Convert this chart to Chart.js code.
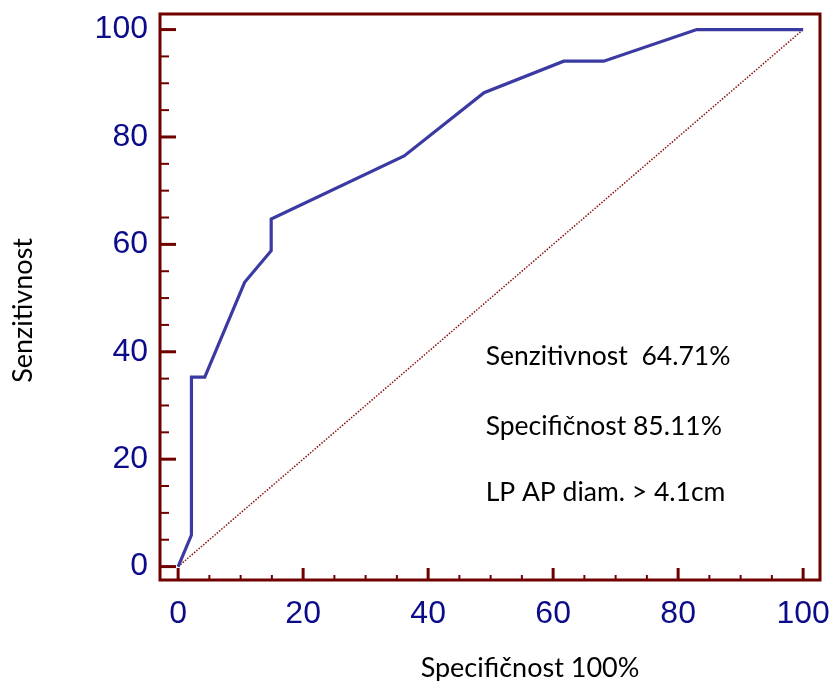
<!DOCTYPE html>
<html>
<head>
<meta charset="utf-8">
<script src="https://cdn.jsdelivr.net/npm/chart.js@4.4.1/dist/chart.umd.min.js"></script>
<style>
  html, body { margin: 0; padding: 0; background: #fff; }
  #wrap { width: 838px; height: 681px; }
</style>
</head>
<body>
<div id="wrap"><canvas id="roc" width="838" height="681"></canvas></div>
<script>
// ROC curve: 1 - specificity (%) vs sensitivity (%)
const fpr = [0, 2.13, 2.13, 4.26, 10.64, 14.89, 14.89, 36.17, 48.94, 61.70, 68.09, 82.98, 100];
const tpr = [0, 5.88, 35.29, 35.29, 52.94, 58.82, 64.71, 76.47, 88.24, 94.12, 94.12, 100, 100];
const refX = [0, 100];
const refY = [0, 100];
const majorTicks = [0, 20, 40, 60, 80, 100];
const minorStep = 5;
const notes = ['Senzitivnost  64.71%', 'Specifičnost 85.11%', 'LP AP diam. > 4.1cm'];
const xTitle = 'Specifičnost 100%';
const yTitle = 'Senzitivnost';

const frameColor = '#700000';
const labelColor = '#0c0c8a';
const textFont = 'Lato, "Open Sans", sans-serif';

const okvir = {
    id: 'okvir',
    afterDatasetsDraw(chart) {
        const ctx = chart.ctx;
        const a = chart.chartArea;
        const xs = chart.scales.x, ys = chart.scales.y;
        ctx.save();
        ctx.strokeStyle = frameColor;
        ctx.lineWidth = 3;
        ctx.strokeRect(a.left, a.top, a.right - a.left, a.bottom - a.top);
        for (let v = 0; v <= 100; v += minorStep) {
            const major = majorTicks.includes(v);
            ctx.lineWidth = major ? 3 : 2;
            const py = ys.getPixelForValue(v);
            ctx.beginPath();
            ctx.moveTo(a.left, py);
            ctx.lineTo(a.left + (major ? 16 : 9), py);
            ctx.stroke();
            const px = xs.getPixelForValue(v);
            ctx.beginPath();
            ctx.moveTo(px, a.bottom);
            ctx.lineTo(px, a.bottom - (major ? 12 : 5));
            ctx.stroke();
        }
        ctx.fillStyle = '#000';
        ctx.font = '26.5px ' + textFont;
        ctx.textBaseline = 'middle';
        const tx = xs.getPixelForValue(49.2);
        const rows = [39.1, 26.1, 13.8];
        notes.forEach((t, i) => ctx.fillText(t, tx, ys.getPixelForValue(rows[i])));

        // axis titles
        ctx.font = '27px ' + textFont;
        ctx.textAlign = 'center';
        ctx.fillText(xTitle, xs.getPixelForValue(56.3), a.bottom + 88);
        ctx.translate(23, ys.getPixelForValue(47.7));
        ctx.rotate(-Math.PI / 2);
        ctx.fillText(yTitle, 0, 0);
        ctx.restore();
    }
};

new Chart(document.getElementById('roc'), {
    type: 'scatter',
    data: {
        datasets: [
            {
                data: fpr.map((x, i) => ({ x: x, y: tpr[i] })),
                showLine: true,
                borderColor: '#3a3aa2',
                borderWidth: 3.2,
                pointRadius: 0,
                tension: 0
            },
            {
                data: refX.map((x, i) => ({ x: x, y: refY[i] })),
                showLine: true,
                borderColor: '#8b1010',
                borderWidth: 1.5,
                borderDash: [1.5, 1.5],
                pointRadius: 0
            }
        ]
    },
    plugins: [okvir],
    options: {
        responsive: false,
        animation: false,
        layout: { padding: { top: 14, right: 18, left: 0, bottom: 0 } },
        plugins: { legend: { display: false }, tooltip: { enabled: false } },
        scales: {
            x: {
                type: 'linear',
                min: -2.9,
                max: 102.7,
                afterFit: s => { s.height = 101; s.paddingLeft = 0; s.paddingRight = 0; },
                afterBuildTicks: s => { s.ticks = majorTicks.map(v => ({ value: v })); },
                border: { display: false },
                grid: { display: false, drawTicks: false },
                ticks: {
                    color: labelColor,
                    font: { family: '"Liberation Sans", Arial, sans-serif', size: 32 },
                    padding: 15,
                    maxRotation: 0
                }
            },
            y: {
                type: 'linear',
                min: -2.5,
                max: 102.9,
                afterFit: s => { s.width = 160; s.paddingTop = 0; s.paddingBottom = 0; },
                afterBuildTicks: s => { s.ticks = majorTicks.map(v => ({ value: v })); },
                border: { display: false },
                grid: { display: false, drawTicks: false },
                ticks: {
                    color: labelColor,
                    font: { family: '"Liberation Sans", Arial, sans-serif', size: 32 },
                    padding: 12
                }
            }
        }
    }
});
</script>
</body>
</html>
